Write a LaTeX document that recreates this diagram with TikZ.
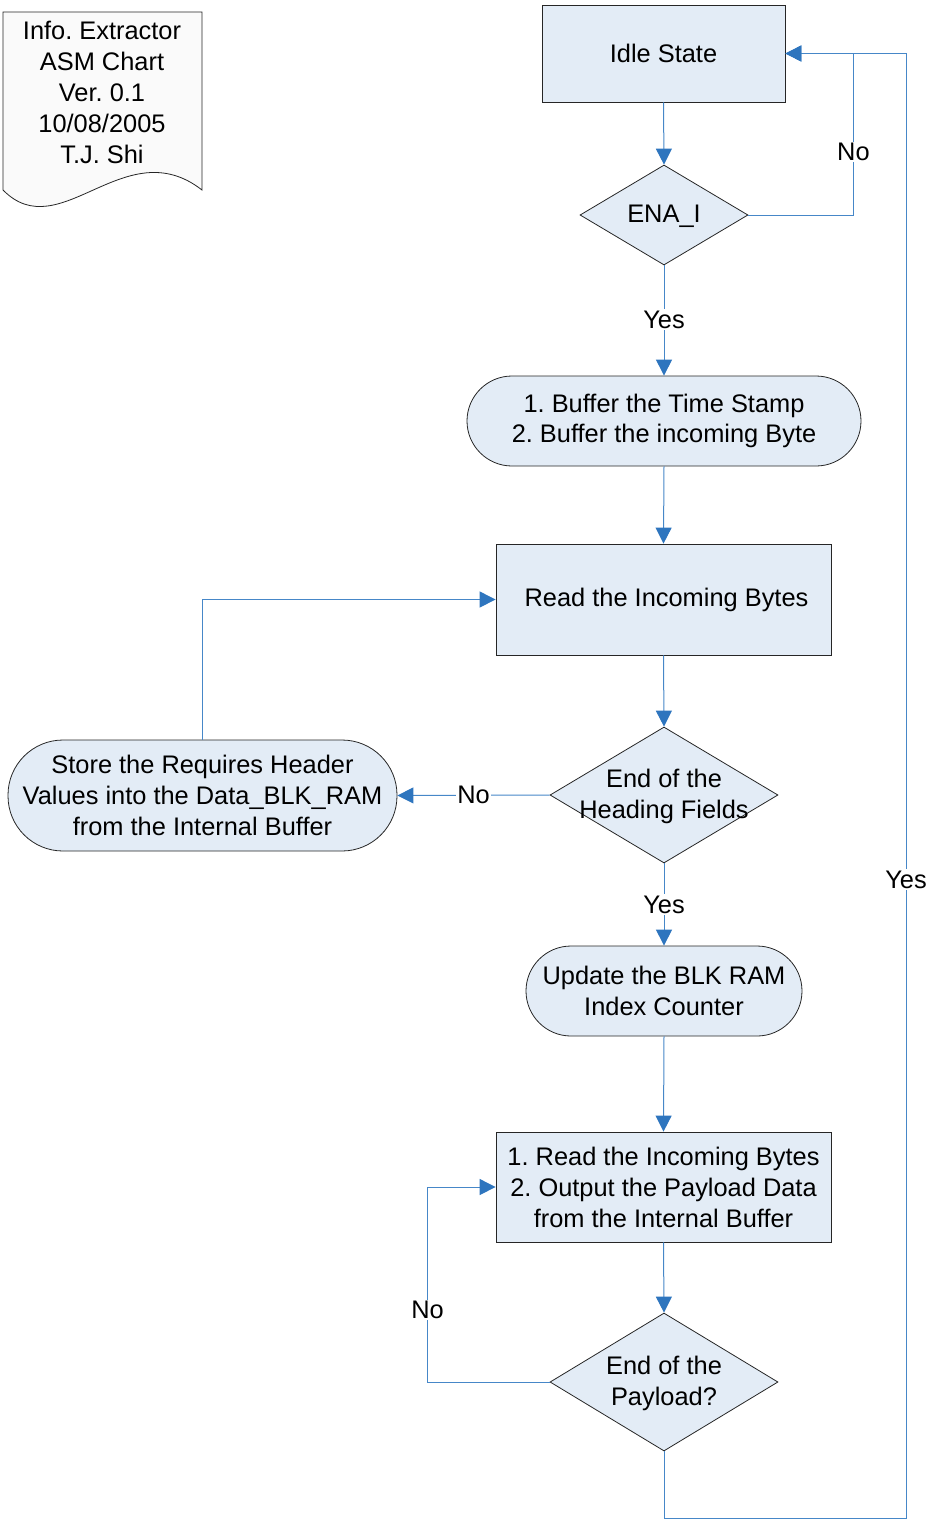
\documentclass[tikz,border=0pt]{standalone}
\usepackage{fontspec}
\setmainfont{Liberation Sans}
\usetikzlibrary{shapes.geometric,arrows.meta}
\definecolor{boxfill}{RGB}{227,236,246}
\definecolor{sheetfill}{RGB}{250,250,250}
\definecolor{flowline}{RGB}{70,135,200}
\definecolor{tipblue}{RGB}{46,117,190}
\frenchspacing
\begin{document}
\begin{tikzpicture}[x=1pt,y=-1pt,
  every node/.style={font=\fontsize{25.4}{31}\selectfont, align=center, inner sep=0pt},
  statebox/.style={draw=black!85, line width=0.8pt, fill=boxfill, rectangle},
  condbox/.style={draw=black!85, line width=0.8pt, fill=boxfill, rectangle},
  dia/.style={draw=black!85, line width=0.8pt, fill=boxfill, diamond},
  flow/.style={draw=flowline, line width=1pt,
    -{Triangle[length=16pt,width=16pt,fill=tipblue,color=tipblue]}},
  lbl/.style={fill=white, inner sep=1.5pt},
  txt/.style={yshift=-1.5pt}]
\useasboundingbox (0,0) rectangle (932,1519);

% title sheet with a wavy lower edge
\draw[draw=black!85, line width=0.8pt, fill=sheetfill]
  (3,12) -- (202,12) -- (202,190)
  .. controls (125,130) and (60,248) .. (3,190) -- cycle;
\node[txt] (doc) at (102,91) {Info. Extractor\\ASM Chart\\Ver. 0.1\\10/08/2005\\T.J. Shi};

% states and conditional outputs
\node[statebox, minimum width=243pt, minimum height=97pt] (idle) at (663.5,53.5) {Idle State};
\node[dia, minimum width=168pt, minimum height=100pt] (ena) at (664,215) {};
\node[txt] at (ena) {ENA\_I};
\node[condbox, rounded corners=45pt, minimum width=394pt, minimum height=90pt] (buf) at (664,421)
  {\raisebox{-2pt}{\shortstack{1. Buffer the Time Stamp\\[4pt]2. Buffer the incoming Byte}}};
\node[statebox, minimum width=335pt, minimum height=111pt] (read) at (663.5,599.5) {\hspace{6pt}Read the Incoming Bytes};
\node[dia, minimum width=228pt, minimum height=136pt] (hdr) at (664,795) {};
\node[txt] at (hdr) {End of the\\Heading Fields};
\node[condbox, rounded corners=55pt, minimum width=389pt, minimum height=111pt] (store) at (202.5,795.5)
  {Store the Requires Header\\Values into the Data\_BLK\_RAM\\from the Internal Buffer};
\node[condbox, rounded corners=45pt, minimum width=276pt, minimum height=90pt] (upd) at (664,991)
  {Update the BLK RAM\\Index Counter};
\node[statebox, minimum width=335pt, minimum height=110pt] (pay) at (663.5,1187)
  {1. Read the Incoming Bytes\\2. Output the Payload Data\\from the Internal Buffer};
\node[dia, minimum width=228pt, minimum height=138pt] (end) at (664,1382) {};
\node[txt] at (end) {End of the\\Payload?};

% transitions
\draw[flow] (idle.south) -- (ena.north);
\draw[flow] (ena.east) -- ++(105,0) coordinate (ena-no)
  -- node[lbl, pos=0.39] {No} (ena-no |- idle.east) -- (idle.east);
\draw[flow] (ena.south) -- node[lbl, pos=0.49] {Yes} (buf.north);
\draw[flow] (buf.south) -- (read.north);
\draw[flow] (read.south) -- (hdr.north);
\draw[flow] (hdr.west) -- node[lbl, pos=0.5] {No} (store.east);
\draw[flow] (store.north) -- (store.north |- read.west) -- (read.west);
\draw[flow] (hdr.south) -- node[lbl, pos=0.5] {Yes} (upd.north);
\draw[flow] (upd.south) -- (pay.north);
\draw[flow] (pay.south) -- (end.north);
\draw[flow] (end.west) -- ++(-122,0) coordinate (end-no)
  -- node[lbl, pos=0.37] {No} (end-no |- pay.west) -- (pay.west);
\draw[flow] (end.south) -- ++(0,67) -- ++(242,0) coordinate (end-yes)
  -- node[lbl, pos=0.436] {Yes} (end-yes |- idle.east) -- (idle.east);
\end{tikzpicture}
\end{document}
